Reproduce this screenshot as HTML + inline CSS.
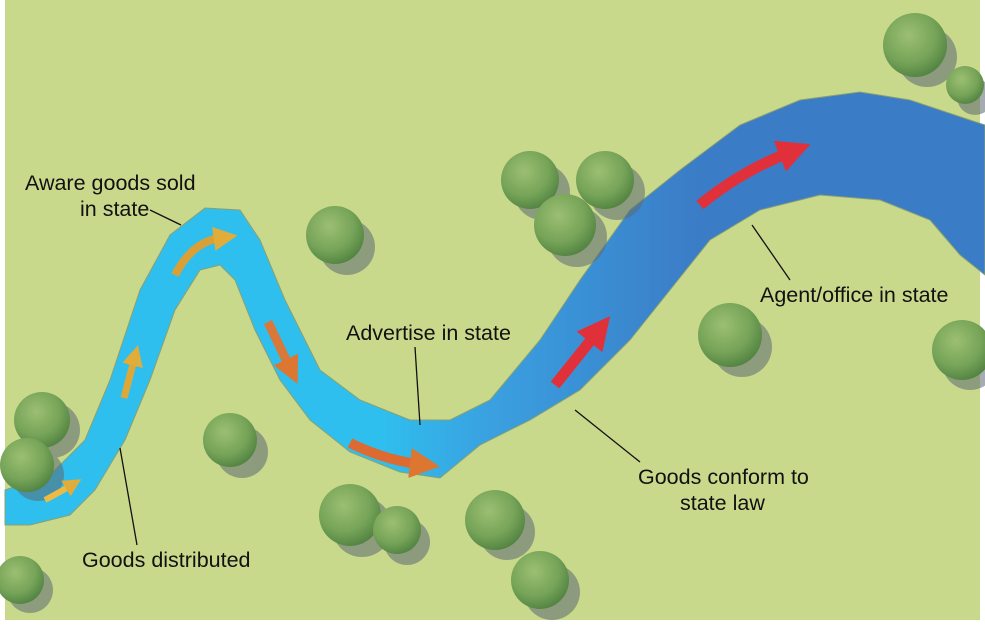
<!DOCTYPE html>
<html><head><meta charset="utf-8"><style>
html,body{margin:0;padding:0;background:#fff}
svg{display:block}
text{font-family:"Liberation Sans",sans-serif;font-size:21.5px;fill:#111}
</style></head><body>
<svg width="985" height="625" viewBox="0 0 985 625" xmlns="http://www.w3.org/2000/svg">
<defs>
<linearGradient id="rv" gradientUnits="userSpaceOnUse" x1="380" y1="0" x2="700" y2="0">
<stop offset="0" stop-color="#2fbfee"/><stop offset="0.35" stop-color="#3aa0e0"/><stop offset="1" stop-color="#3b7cc6"/></linearGradient>
<radialGradient id="tr" cx="0.4" cy="0.35" r="0.7"><stop offset="0" stop-color="#9cbf72"/><stop offset="0.6" stop-color="#76a458"/><stop offset="1" stop-color="#4f8040"/></radialGradient>
<marker id="ay" markerWidth="3" markerHeight="3" refX="0.8" refY="1.5" orient="auto" markerUnits="strokeWidth"><path d="M0,0 L3,1.5 L0,3z" fill="#e0ac3a"/></marker>
<marker id="ao" markerWidth="3" markerHeight="3" refX="0.8" refY="1.5" orient="auto" markerUnits="strokeWidth"><path d="M0,0 L3,1.5 L0,3z" fill="#dc7630"/></marker>
<marker id="ar" markerWidth="3" markerHeight="3" refX="0.8" refY="1.5" orient="auto" markerUnits="strokeWidth"><path d="M0,0 L3,1.5 L0,3z" fill="#e0313a"/></marker>
</defs>
<rect x="5" y="0" width="975" height="620" fill="#c9d98c"/>
<path d="M5,490 L50,475 L85,440 L110,380 L140,290 L170,235 L205,208 L240,210 L260,240 L285,300 L320,370 L360,400 L410,420 L450,420 L490,400 L540,340 L580,280 L630,210 L680,170 L740,125 L800,100 L860,92 L910,100 L985,125 L985,275 L960,255 L930,220 L880,200 L820,195 L760,210 L710,240 L670,290 L630,340 L580,390 L530,420 L480,445 L440,478 L400,472 L350,452 L310,420 L280,380 L255,330 L235,280 L220,265 L200,270 L175,310 L150,380 L125,440 L95,490 L70,515 L30,525 L5,525 Z" fill="url(#rv)" stroke="#8aa070" stroke-width="1"/>
<g fill="#5c6a72" opacity="0.55">
<circle cx="52" cy="430" r="28"/><circle cx="38" cy="475" r="26"/><circle cx="347" cy="247" r="28"/><circle cx="242" cy="452" r="26"/><circle cx="542" cy="192" r="28"/><circle cx="617" cy="192" r="28"/><circle cx="577" cy="237" r="30"/><circle cx="927" cy="57" r="30"/><circle cx="742" cy="347" r="30"/><circle cx="970" cy="362" r="28"/><circle cx="362" cy="527" r="30"/><circle cx="407" cy="542" r="23"/><circle cx="507" cy="532" r="28"/><circle cx="552" cy="592" r="28"/><circle cx="30" cy="590" r="23"/><circle cx="975" cy="97" r="18"/>
</g>
<g fill="url(#tr)">
<circle cx="42" cy="420" r="28"/><circle cx="27" cy="465" r="27"/><circle cx="335" cy="235" r="29"/><circle cx="230" cy="440" r="27"/><circle cx="530" cy="180" r="29"/><circle cx="605" cy="180" r="29"/><circle cx="565" cy="225" r="31"/><circle cx="915" cy="45" r="32"/><circle cx="965" cy="85" r="19"/><circle cx="730" cy="335" r="32"/><circle cx="962" cy="350" r="30"/><circle cx="350" cy="515" r="31"/><circle cx="397" cy="530" r="24"/><circle cx="495" cy="520" r="30"/><circle cx="540" cy="580" r="29"/><circle cx="20" cy="580" r="24"/>
</g>
<g fill="none" stroke-linecap="butt">
<path d="M45,500 Q60,492 70,486" stroke="#ecba45" stroke-width="6" marker-end="url(#ay)"/>
<path d="M124,398 L134,360" stroke="#dca83a" stroke-width="7" marker-end="url(#ay)"/>
<path d="M175,275 Q192,242 220,238" stroke="#d9a038" stroke-width="8" marker-end="url(#ay)"/>
<path d="M268,322 L289,366" stroke="#d8783a" stroke-width="9" marker-end="url(#ao)"/>
<path d="M350,443 Q385,460 418,464" stroke="#dd6a30" stroke-width="10" marker-end="url(#ao)"/>
<path d="M555,385 L595,335" stroke="#e0313a" stroke-width="11" marker-end="url(#ar)"/>
<path d="M700,205 Q740,172 788,153" stroke="#e0313a" stroke-width="11" marker-end="url(#ar)"/>
</g>
<g stroke="#111" stroke-width="1.3" fill="none">
<path d="M150,210 L181,225"/>
<path d="M415,347 L420,425"/>
<path d="M790,280 L752,225"/>
<path d="M640,462 L575,410"/>
<path d="M137,545 L120,448"/>
</g>
<text x="25" y="190">Aware goods sold</text>
<text x="80" y="216">in state</text>
<text x="346" y="340">Advertise in state</text>
<text x="760" y="302">Agent/office in state</text>
<text x="638" y="484">Goods conform to</text>
<text x="680" y="510">state law</text>
<text x="82" y="567">Goods distributed</text>
</svg>
</body></html>
